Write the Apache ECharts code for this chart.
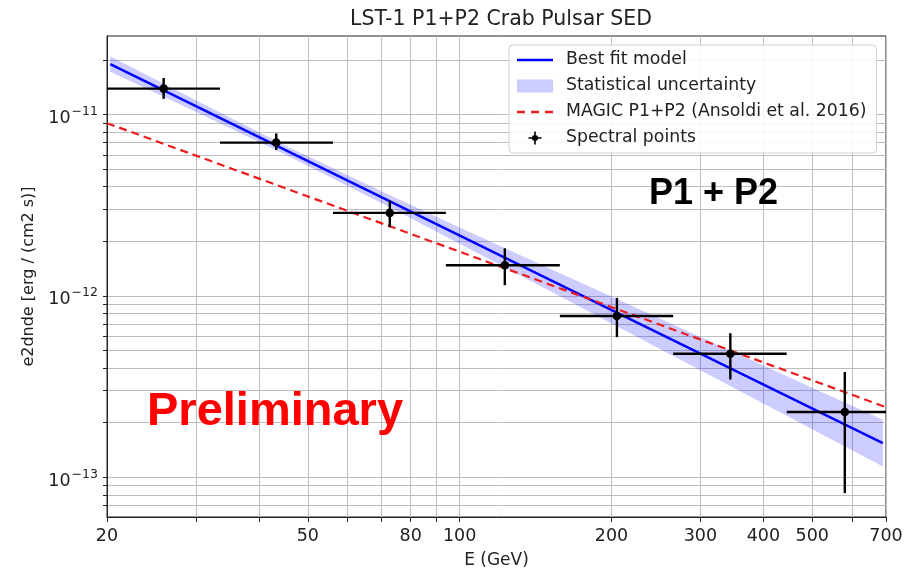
<!DOCTYPE html>
<html><head><meta charset="utf-8">
<script src="https://cdn.jsdelivr.net/npm/echarts@6/dist/echarts.min.js"></script>
<style>html,body{margin:0;padding:0;background:#fff}#c{width:909px;height:574px}</style>
</head><body><div id="c"></div>
<script>
// Spectral points (E in GeV, e2dnde in erg/cm2/s)
const energy   = [25.9, 43.3, 72.7, 122.9, 205, 344, 580];
const flux     = [1.39e-11, 7.0e-12, 2.87e-12, 1.475e-12, 7.75e-13, 4.80e-13, 2.29e-13];
const fluxLow  = [1.22e-11, 6.37e-12, 2.39e-12, 1.146e-12, 5.92e-13, 3.46e-13, 8.18e-14];
const fluxHigh = [1.59e-11, 7.87e-12, 3.35e-12, 1.83e-12, 9.75e-13, 6.23e-13, 3.81e-13];
const binLow   = [20, 33.5, 56.1, 93.9, 158, 265, 445];
const binHigh  = [33.5, 56.1, 93.9, 158, 265, 445, 745];
// Best fit model
const fitEnergy = [20.3, 690];
const fitFlux   = [1.898e-11, 1.542e-13];
// Statistical uncertainty band
const bandEnergy = [20.3, 30, 45, 70, 100, 150, 200, 300, 400, 550, 690];
const bandUpper  = [2.095e-11, 1.197e-11, 6.78e-12, 3.772e-12, 2.386e-12, 1.4255e-12, 9.91e-13, 5.936e-13, 4.13e-13, 2.763e-13, 2.076e-13];
const bandLower  = [1.719e-11, 1.037e-11, 6.04e-12, 3.251e-12, 1.940e-12, 1.0749e-12, 7.05e-13, 3.891e-13, 2.55e-13, 1.598e-13, 1.146e-13];
// MAGIC P1+P2
const magicEnergy = [20, 700];
const magicFlux   = [8.96e-12, 2.436e-13];
// Axis ticks
const xLabelValues = [20, 50, 80, 100, 200, 300, 400, 500, 700];
const xTickValues  = [20, 30, 40, 50, 60, 70, 80, 90, 100, 200, 300, 400, 500, 600, 700];
const yLabelValues = [1e-13, 1e-12, 1e-11];
const yTickValues  = [7e-14, 8e-14, 9e-14, 1e-13, 2e-13, 3e-13, 4e-13, 5e-13, 6e-13, 7e-13, 8e-13, 9e-13,
                      1e-12, 2e-12, 3e-12, 4e-12, 5e-12, 6e-12, 7e-12, 8e-12, 9e-12, 1e-11, 2e-11];

const FONT = 'DejaVu Sans';
const chart = echarts.init(document.getElementById('c'), null, {renderer: 'canvas'});
const gridColor = '#bdbdbd';

const option = {
  animation: false,
  backgroundColor: '#fff',
  title: {
    text: 'LST-1 P1+P2 Crab Pulsar SED',
    left: 496, top: 4, textAlign: 'center',
    textStyle: {fontFamily: FONT, fontSize: 20.5, fontWeight: 'normal', color: '#222'}
  },
  grid: {left: 107, right: 23, top: 36, bottom: 54, show: true, borderColor: '#222', borderWidth: 1, backgroundColor: 'transparent'},
  legend: {
    orient: 'vertical', left: 509, top: 45,
    padding: [6, 10, 6, 8],
    backgroundColor: 'rgba(255,255,255,0.85)', borderColor: '#d0d0d0', borderWidth: 1, borderRadius: 4,
    itemWidth: 36, itemHeight: 13, itemGap: 8,
    textStyle: {fontFamily: FONT, fontSize: 17.3, color: '#222', padding: [0, 0, 0, 8], lineHeight: 18},
    data: [
      {name: 'Best fit model', icon: 'path://M0,0h36v2.4h-36z', itemStyle: {color: '#0000ff'}},
      {name: 'Statistical uncertainty', icon: 'rect', itemStyle: {color: 'rgba(0,0,255,0.2)'}},
      {name: 'MAGIC P1+P2 (Ansoldi et al. 2016)', icon: 'path://M0,0h8v2.4h-8z M14,0h8v2.4h-8z M28,0h8v2.4h-8z', itemStyle: {color: '#ee1c1c'}},
      {name: 'Spectral points', icon: 'path://M7,0h2v7h7v2h-7v7h-2v-7h-7v-2h7z M8,4.3a3.7,3.7 0 1,1 -0.01,0z', itemStyle: {color: '#000'}}
    ]
  },
  xAxis: {
    type: 'log', logBase: 10, min: 20, max: 700,
    name: 'E (GeV)', nameLocation: 'middle', nameGap: 35,
    nameTextStyle: {fontFamily: FONT, fontSize: 17, color: '#222'},
    axisLine: {show: true, lineStyle: {color: '#222', width: 1}},
    axisTick: {show: true, customValues: xTickValues, length: 5, inside: false, lineStyle: {color: '#222'}},
    axisLabel: {customValues: xLabelValues, fontFamily: FONT, fontSize: 17.5, color: '#222', margin: 10,
                formatter: v => String(Math.round(v))},
    splitLine: {show: true, lineStyle: {color: gridColor, width: 1}},
    minorTick: {show: false}
  },
  yAxis: {
    type: 'log', logBase: 10, min: 6.04e-14, max: 2.71e-11,
    name: 'e2dnde [erg / (cm2 s)]', nameLocation: 'middle', nameGap: 70, nameRotate: 90,
    nameTextStyle: {fontFamily: FONT, fontSize: 16, color: '#222'},
    axisLine: {show: true, lineStyle: {color: '#222', width: 1}},
    axisTick: {show: true, customValues: yTickValues, length: 4, lineStyle: {color: '#222'}},
    axisLabel: {
      customValues: yLabelValues, margin: 9,
      formatter: v => '{b|10}{s|' + '\u2212' + Math.abs(Math.round(Math.log10(v))) + '}',
      rich: {
        b: {fontFamily: FONT, fontSize: 17.5, color: '#222', padding: [8, 0, 0, 0]},
        s: {fontFamily: FONT, fontSize: 12.5, color: '#222', padding: [0, 0, 6, 1]}
      }
    },
    splitLine: {show: true, lineStyle: {color: gridColor, width: 1}}
  },
  series: [
    {
      name: 'Statistical uncertainty', type: 'custom', z: 2, clip: true,
      itemStyle: {color: 'rgba(0,0,255,0.2)'},
      data: [[bandEnergy[0], bandUpper[0]]],
      encode: {x: 0, y: 1},
      renderItem: function (params, api) {
        const pts = [];
        for (let i = 0; i < bandEnergy.length; i++) pts.push(api.coord([bandEnergy[i], bandUpper[i]]));
        for (let i = bandEnergy.length - 1; i >= 0; i--) pts.push(api.coord([bandEnergy[i], bandLower[i]]));
        return {type: 'polygon', shape: {points: pts}, style: {fill: 'rgba(0,0,255,0.2)', stroke: null}};
      }
    },
    {
      name: 'Best fit model', type: 'line', z: 3, symbol: 'none', showSymbol: false,
      lineStyle: {color: '#0000ff', width: 2.4}, itemStyle: {color: '#0000ff'},
      data: fitEnergy.map((e, i) => [e, fitFlux[i]])
    },
    {
      name: 'MAGIC P1+P2 (Ansoldi et al. 2016)', type: 'line', z: 3, symbol: 'none', showSymbol: false,
      lineStyle: {color: '#ee1c1c', width: 2.2, type: [8, 5]}, itemStyle: {color: '#ee1c1c'},
      data: magicEnergy.map((e, i) => [e, magicFlux[i]])
    },
    {
      name: 'Spectral points', type: 'custom', z: 4, clip: true,
      itemStyle: {color: '#000'},
      data: energy.map((e, i) => [e, flux[i], binLow[i], binHigh[i], fluxLow[i], fluxHigh[i]]),
      encode: {x: 0, y: 1},
      renderItem: function (params, api) {
        const x = api.value(0), y = api.value(1);
        const c = api.coord([x, y]);
        const l = api.coord([api.value(2), y]);
        const r = api.coord([api.value(3), y]);
        const lo = api.coord([x, api.value(4)]);
        const hi = api.coord([x, api.value(5)]);
        const st = {stroke: '#000', lineWidth: 2.4};
        return {type: 'group', children: [
          {type: 'line', shape: {x1: l[0], y1: l[1], x2: r[0], y2: r[1]}, style: st},
          {type: 'line', shape: {x1: c[0], y1: lo[1], x2: c[0], y2: hi[1]}, style: st},
          {type: 'circle', shape: {cx: c[0], cy: c[1], r: 4.3}, style: {fill: '#000'}}
        ]};
      }
    }
  ],
  graphic: [
    {type: 'text', left: 649, top: 176, z: 10,
     style: {text: 'P1 + P2', font: 'bold 36px "Liberation Sans", Arial, sans-serif', fill: '#000'}},
    {type: 'text', left: 147, top: 389, z: 10,
     style: {text: 'Preliminary', font: 'bold 47px "Liberation Sans", Arial, sans-serif', fill: '#ff0000'}}
  ]
};
chart.setOption(option);
</script>
</body></html>
